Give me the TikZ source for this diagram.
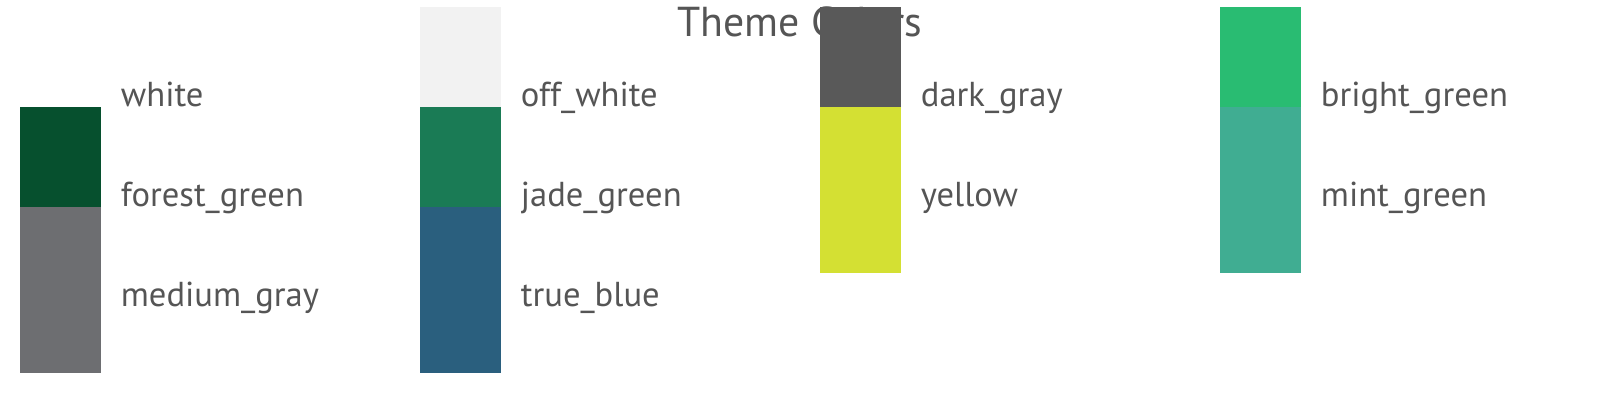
\documentclass[tikz,border=0pt]{standalone}
\usepackage{fontspec}
\setmainfont{PT Sans}
\definecolor{txt}{HTML}{555555}
\definecolor{cwhite}{HTML}{FFFFFF}
\definecolor{coffwhite}{HTML}{F2F2F2}
\definecolor{cdarkgray}{HTML}{595959}
\definecolor{cbrightgreen}{HTML}{29BC72}
\definecolor{cforestgreen}{HTML}{06502E}
\definecolor{cjadegreen}{HTML}{1A7B55}
\definecolor{cyellow}{HTML}{D4E033}
\definecolor{cmintgreen}{HTML}{40AD92}
\definecolor{cmediumgray}{HTML}{6D6E71}
\definecolor{ctrueblue}{HTML}{2A5F7E}
\tikzset{
  swatch/.style={draw=#1, fill=#1, line width=0.4pt, minimum width=39.6pt, minimum height=82.6pt, inner sep=0pt, outer sep=0pt, anchor=north west},
  swlabel/.style={text=txt, font=\fontsize{17.3}{19}\selectfont, anchor=base west, inner sep=0pt},
  titlestyle/.style={text=txt, font=\fontsize{20.9}{24}\selectfont, anchor=base, inner sep=0pt}
}
\begin{document}
\begin{tikzpicture}[x=0.5pt,y=-0.5pt]
\useasboundingbox (0,0) rectangle (1600,400);
\node[titlestyle] (title) at (800,36.7) {Theme Colors};
% column 1
\node[swatch=cwhite] (s1) at (20.7,7) {};
\node[swlabel] (l1) at (120.5,106.5) {white};
\node[swatch=cforestgreen] (s2) at (20.7,107) {};
\node[swlabel] (l2) at (120.5,206.5) {forest\_green};
\node[swatch=cmediumgray] (s3) at (20.7,207) {};
\node[swlabel] (l3) at (120.5,306.5) {medium\_gray};
% column 2
\node[swatch=coffwhite] (s4) at (420.7,7) {};
\node[swlabel] (l4) at (520.5,106.5) {off\_white};
\node[swatch=cjadegreen] (s5) at (420.7,107) {};
\node[swlabel] (l5) at (520.5,206.5) {jade\_green};
\node[swatch=ctrueblue] (s6) at (420.7,207) {};
\node[swlabel] (l6) at (520.5,306.5) {true\_blue};
% column 3
\node[swatch=cdarkgray] (s7) at (820.7,7) {};
\node[swlabel] (l7) at (920.5,106.5) {dark\_gray};
\node[swatch=cyellow] (s8) at (820.7,107) {};
\node[swlabel] (l8) at (920.5,206.5) {yellow};
% column 4
\node[swatch=cbrightgreen] (s9) at (1220.7,7) {};
\node[swlabel] (l9) at (1320.5,106.5) {bright\_green};
\node[swatch=cmintgreen] (s10) at (1220.7,107) {};
\node[swlabel] (l10) at (1320.5,206.5) {mint\_green};
\end{tikzpicture}
\end{document}
